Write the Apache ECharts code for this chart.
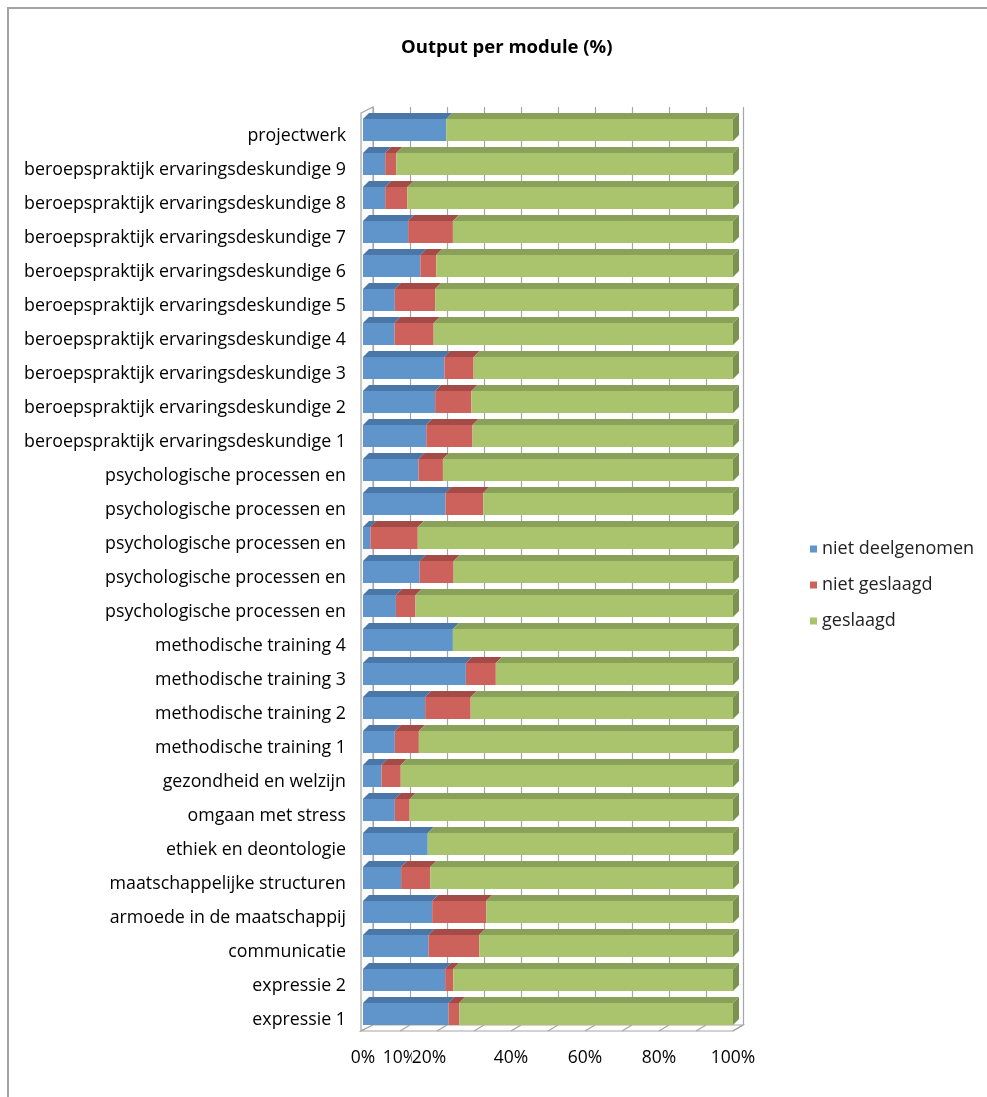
<!DOCTYPE html>
<html><head><meta charset="utf-8">
<script src="https://cdn.jsdelivr.net/npm/echarts@6/dist/echarts.min.js"></script>
<style>
html,body{margin:0;padding:0;background:#fff}
#frame{position:absolute;left:7px;top:7px;right:0;bottom:0;border-left:2px solid #a3a3a3;border-top:2px solid #a3a3a3}
#chart{position:absolute;left:0;top:0;width:987px;height:1097px}
</style></head>
<body><div id="frame"></div><div id="chart"></div>
<script>
// categories listed bottom to top
const categories = [
  'expressie 1','expressie 2','communicatie','armoede in de maatschappij',
  'maatschappelijke structuren','ethiek en deontologie','omgaan met stress',
  'gezondheid en welzijn','methodische training 1','methodische training 2',
  'methodische training 3','methodische training 4',
  'psychologische processen en','psychologische processen en','psychologische processen en',
  'psychologische processen en','psychologische processen en',
  'beroepspraktijk ervaringsdeskundige 1','beroepspraktijk ervaringsdeskundige 2',
  'beroepspraktijk ervaringsdeskundige 3','beroepspraktijk ervaringsdeskundige 4',
  'beroepspraktijk ervaringsdeskundige 5','beroepspraktijk ervaringsdeskundige 6',
  'beroepspraktijk ervaringsdeskundige 7','beroepspraktijk ervaringsdeskundige 8',
  'beroepspraktijk ervaringsdeskundige 9','projectwerk'
];
const nietDeelgenomen = [23.1,22.2,17.7,18.7,10.3,17.5,8.6,5.0,8.6,16.8,27.8,24.3,8.9,15.3,2.0,22.3,15.0,17.1,19.5,22.0,8.5,8.6,15.5,12.2,6.0,6.0,22.5];
const nietGeslaagd   = [2.9,2.2,13.7,14.6,7.9,0,4.0,5.2,6.5,12.3,8.1,0,5.3,9.2,12.8,10.2,6.6,12.5,9.8,7.9,10.6,10.9,4.3,12.1,6.0,3.0,0];
const geslaagd       = [74.0,75.6,68.6,66.7,81.8,82.5,87.4,89.8,84.9,70.9,64.1,75.7,85.8,75.5,85.2,67.5,78.4,70.4,70.7,70.1,80.9,80.5,80.2,75.7,88.0,91.0,77.5];
const seriesNames = ['niet deelgenomen','niet geslaagd','geslaagd'];
const labeledTicks = [0,10,20,40,60,80,100];

const FONT = 'Open Sans';
const palette = [
  {front:'#5f95cb', top:'#4a76a8', side:'#44699a'},
  {front:'#cd625c', top:'#a44b47', side:'#93413e'},
  {front:'#a9c46c', top:'#8aa159', side:'#7b9150'}
];
const DX = 6, DY = 6;
const allSeries = [nietDeelgenomen, nietGeslaagd, geslaagd];

function stackedData(k){
  return categories.map((c,i)=>{
    let s = 0;
    for (let j=0;j<k;j++) s += allSeries[j][i];
    return [i, s, s + allSeries[k][i]];
  });
}

function barSeries(k){
  const col = palette[k];
  return {
    type:'custom', name: seriesNames[k], xAxisIndex:0, yAxisIndex:0, z:3,
    itemStyle:{color: col.front},
    encode:{x:[1,2], y:0},
    data: stackedData(k),
    renderItem(params, api){
      const i = api.value(0), s = api.value(1), e = api.value(2);
      if (e - s <= 0) return {type:'group', children:[]};
      const p0 = api.coord([s, i]), p1 = api.coord([e, i]);
      const band = api.size([0,1])[1];
      const h = band * 0.647;
      const y0 = p0[1] - h/2, y1 = p0[1] + h/2;
      const x0 = p0[0], x1 = p1[0];
      const children = [
        {type:'rect', shape:{x:x0, y:y0, width:x1-x0, height:h}, style:{fill:col.front}},
        {type:'polygon', shape:{points:[[x0,y0],[x1,y0],[x1+DX,y0-DY],[x0+DX,y0-DY]]}, style:{fill:col.top}}
      ];
      if (e >= 99.95) {
        children.push({type:'polygon', shape:{points:[[x1,y0],[x1+DX,y0-DY],[x1+DX,y1-DY],[x1,y1]]}, style:{fill:col.side}});
      }
      return {type:'group', children};
    }
  };
}

const frameSeries = {
  type:'custom', name:'frame', xAxisIndex:0, yAxisIndex:0, z:1, silent:true,
  data:[[0]], encode:{x:0},
  renderItem(params, api){
    const cs = params.coordSys;
    const left = cs.x, top = cs.y, bottom = cs.y + cs.height;
    const stroke = '#a6a6a6';
    const ch = [];
    ch.push({type:'polygon', shape:{points:[[left-2,top],[left+10,top-6],[left+10,bottom-6],[left-2,bottom]]}, style:{fill:'#fafafa', stroke:stroke, lineWidth:1.2}});
    const r = api.coord([100,0])[0];
    ch.push({type:'polygon', shape:{points:[[left-2,bottom],[r,bottom],[r+10,bottom-6],[left+10,bottom-6]]}, style:{fill:'#fff', stroke:stroke, lineWidth:1.2}});
    for (let t=10;t<=100;t+=10){
      const x = api.coord([t,0])[0];
      ch.push({type:'line', shape:{x1:x, y1:bottom, x2:x+10, y2:bottom-6}, style:{stroke:stroke, lineWidth:1.2}});
    }
    return {type:'group', children:ch};
  }
};

const chart = echarts.init(document.getElementById('chart'), null, {renderer:'canvas'});
chart.setOption({
  animation:false,
  title:{
    text:'Output per module (%)', left:396, top:33,
    textStyle:{fontFamily:FONT, fontSize:18.5, fontWeight:'bold', color:'#000'}
  },
  legend:{
    data: seriesNames, orient:'vertical', left:805, top:531,
    icon:'rect', itemWidth:7, itemHeight:7, itemGap:10,
    textStyle:{fontFamily:FONT, fontSize:18, color:'#222', lineHeight:18, padding:[8,0,0,0]}
  },
  grid:[
    {left:363, right:254, top:113, bottom:66},
    {left:373, right:244, top:107, bottom:72}
  ],
  xAxis:[
    {type:'value', gridIndex:0, min:0, max:100, interval:10,
     axisLine:{show:false}, axisTick:{show:false}, splitLine:{show:false},
     axisLabel:{
       show:true, margin:18, hideOverlap:false,
       fontFamily:FONT, fontSize:17.5, color:'#000',
       formatter:v => labeledTicks.indexOf(v) < 0 ? '' : (v === 20 ? '{s|' + v + '%}' : v + '%'),
       rich:{s:{fontFamily:FONT, fontSize:17.5, color:'#000', padding:[0,16,0,0], backgroundColor:'#fff'}}
     }},
    {type:'value', gridIndex:1, min:0, max:100, interval:10,
     axisLine:{show:false}, axisTick:{show:false}, axisLabel:{show:false},
     splitLine:{show:true, lineStyle:{color:'#a6a6a6', width:1.2}}}
  ],
  yAxis:[
    {type:'category', gridIndex:0, data:categories,
     axisLine:{show:false}, axisTick:{show:false},
     axisLabel:{margin:17, interval:0,
       formatter: v => '{c|' + v + '}',
       rich:{c:{fontFamily:FONT, fontSize:17.8, color:'#000', padding:[12,0,0,0]}}}},
    {type:'category', gridIndex:1, data:categories, show:false}
  ],
  series:[frameSeries, barSeries(0), barSeries(1), barSeries(2)]
});
</script></body></html>
